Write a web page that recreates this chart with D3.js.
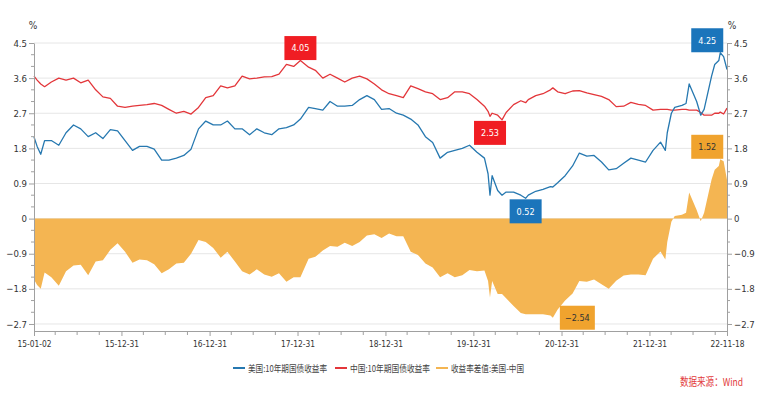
<!DOCTYPE html>
<html><head><meta charset="utf-8">
<script src="https://cdn.jsdelivr.net/npm/d3@7"></script>
<style>
html,body{margin:0;padding:0;background:#fff;}
svg{display:block;}
.tick text{font-family:'Liberation Sans Narrow','DejaVu Sans Condensed','Liberation Sans',sans-serif;font-size:9.5px;fill:#333;}
</style></head>
<body><svg id="chart" width="760" height="396"></svg>
<script>
const dates = ["2015-01-02","2015-01-15","2015-01-30","2015-02-15","2015-03-15","2015-04-15","2015-05-15","2015-06-15","2015-07-15","2015-08-15","2015-09-15","2015-10-15","2015-11-15","2015-12-15",
"2016-01-15","2016-02-15","2016-03-15","2016-04-15","2016-05-15","2016-06-15","2016-07-15","2016-08-15","2016-09-15","2016-10-15","2016-11-15","2016-12-15",
"2017-01-15","2017-02-15","2017-03-15","2017-04-15","2017-05-15","2017-06-15","2017-07-15","2017-08-15","2017-09-15","2017-10-15","2017-11-15","2017-12-15",
"2018-01-12","2018-02-15","2018-03-15","2018-04-15","2018-05-15","2018-06-15","2018-07-15","2018-08-15","2018-09-15","2018-10-15","2018-11-15","2018-12-15",
"2019-01-15","2019-02-15","2019-03-15","2019-04-15","2019-05-15","2019-06-15","2019-07-15","2019-08-15","2019-09-15","2019-10-15","2019-11-15","2019-12-15",
"2020-01-15","2020-02-15","2020-03-01","2020-03-09","2020-03-18","2020-04-10","2020-04-28","2020-05-15","2020-06-15","2020-07-15","2020-08-04","2020-08-15","2020-09-15","2020-10-15","2020-11-15","2020-11-25","2020-12-15",
"2021-01-15","2021-02-15","2021-03-15","2021-04-15","2021-05-15","2021-06-15","2021-07-15","2021-08-15","2021-09-15","2021-10-15","2021-11-15","2021-12-15",
"2022-01-15","2022-02-15","2022-03-07","2022-03-15","2022-04-01","2022-04-15","2022-05-15","2022-06-01","2022-06-14","2022-07-15","2022-08-01","2022-08-15","2022-09-15","2022-09-28","2022-10-15","2022-10-21","2022-11-04","2022-11-18"];

const usYield = [2.09,1.85,1.65,2.00,2.00,1.88,2.20,2.40,2.30,2.10,2.20,2.05,2.28,2.25,
2.00,1.75,1.85,1.85,1.78,1.50,1.50,1.55,1.62,1.78,2.30,2.50,
2.40,2.40,2.50,2.30,2.30,2.15,2.30,2.20,2.15,2.30,2.33,2.40,
2.55,2.85,2.82,2.78,3.00,2.88,2.88,2.90,3.05,3.15,3.05,2.80,
2.82,2.70,2.65,2.55,2.40,2.10,1.95,1.55,1.70,1.75,1.80,1.88,
1.70,1.55,1.15,0.60,1.10,0.72,0.60,0.68,0.68,0.60,0.52,0.60,0.70,0.75,0.82,0.81,0.92,
1.10,1.35,1.68,1.60,1.62,1.45,1.25,1.28,1.42,1.55,1.50,1.45,
1.75,1.96,1.75,2.20,2.70,2.85,2.90,2.95,3.45,3.00,2.65,2.80,3.65,3.95,4.05,4.25,4.15,3.82];

const cnYield = [3.65,3.55,3.45,3.38,3.50,3.60,3.55,3.60,3.48,3.55,3.30,3.12,3.08,2.88,
2.85,2.88,2.90,2.92,2.95,2.90,2.80,2.70,2.75,2.68,2.85,3.10,
3.15,3.40,3.35,3.40,3.65,3.58,3.60,3.63,3.64,3.70,3.95,3.90,
4.05,3.88,3.80,3.60,3.70,3.60,3.50,3.60,3.65,3.58,3.45,3.30,
3.20,3.15,3.10,3.40,3.33,3.25,3.20,3.05,3.10,3.25,3.25,3.20,
3.05,2.88,2.75,2.62,2.70,2.65,2.53,2.72,2.92,3.02,2.97,3.05,3.15,3.20,3.30,3.35,3.25,
3.20,3.27,3.28,3.22,3.18,3.13,3.05,2.87,2.88,2.98,2.93,2.90,
2.78,2.80,2.80,2.80,2.78,2.78,2.80,2.80,2.78,2.78,2.72,2.65,2.65,2.70,2.70,2.73,2.68,2.83];

const yTicks = [-2.7,-1.8,-0.9,0,0.9,1.8,2.7,3.6,4.5];
const xTickDates = ["2015-01-02","2015-12-31","2016-12-31","2017-12-31","2018-12-31","2019-12-31","2020-12-31","2021-12-31","2022-11-18"];
const xTickLabels = ["15-01-02","15-12-31","16-12-31","17-12-31","18-12-31","19-12-31","20-12-31","21-12-31","22-11-18"];
const seriesNames = ["美国:10年期国债收益率","中国:10年期国债收益率","收益率差值:美国-中国"];
const sourceText = "数据来源：Wind";

const parse = d3.timeParse("%Y-%m-%d");
const rows = dates.map((d,i)=>({date:parse(d), us:usYield[i], cn:cnYield[i], spread:+(usYield[i]-cnYield[i]).toFixed(2)}));

const BLUE="#2678b0", RED="#e3363a", ORANGE="#f4b552";
const BOX_BLUE="#1b75bb", BOX_RED="#f01d23", BOX_ORANGE="#f0a32e";
const svg = d3.select("#chart");
const L=34, R=727;
const x = d3.scaleTime().domain([parse(dates[0]), parse(dates[dates.length-1])]).range([L,R]);
const y = d3.scaleLinear().domain([-2.88,4.5]).range([331,43]);

// grid
svg.append("g").selectAll("line").data(yTicks).join("line")
  .attr("x1",L).attr("x2",R).attr("y1",d=>y(d)).attr("y2",d=>y(d))
  .attr("stroke","#e6e6e6").attr("stroke-width",1);

// area
svg.append("path").datum(rows)
  .attr("fill",ORANGE)
  .attr("d",d3.area().x(d=>x(d.date)).y0(y(0)).y1(d=>y(d.spread)));

// lines
svg.append("path").datum(rows).attr("fill","none").attr("stroke",RED).attr("stroke-width",1.3)
  .attr("stroke-linejoin","round")
  .attr("d",d3.line().x(d=>x(d.date)).y(d=>y(d.cn)));
svg.append("path").datum(rows).attr("fill","none").attr("stroke",BLUE).attr("stroke-width",1.3)
  .attr("stroke-linejoin","round")
  .attr("d",d3.line().x(d=>x(d.date)).y(d=>y(d.us)));

// axes
const fmtY = d=> d===0 ? "0" : d3.format(".1f")(d);
const minorY = d3.range(-27,46,3).map(v=>v/10).filter(v=>!yTicks.some(t=>Math.abs(t-v)<1e-6));
function styleAxis(g){
  g.select(".domain").attr("stroke","#a0a0a0");
  g.selectAll(".tick line").attr("stroke","#a0a0a0");
}
const gl = svg.append("g").attr("transform",`translate(${L},0)`)
  .call(d3.axisLeft(y).tickValues(yTicks).tickFormat(fmtY).tickSize(5).tickSizeOuter(0).tickPadding(2));
styleAxis(gl);
gl.selectAll(".minor").data(minorY).join("line").attr("class","minor")
  .attr("x1",-3).attr("x2",0).attr("y1",d=>y(d)).attr("y2",d=>y(d)).attr("stroke","#a0a0a0");
const gr = svg.append("g").attr("transform",`translate(${R},0)`)
  .call(d3.axisRight(y).tickValues(yTicks).tickFormat(fmtY).tickSize(5).tickSizeOuter(0).tickPadding(2));
styleAxis(gr);
gr.selectAll(".minor").data(minorY).join("line").attr("class","minor")
  .attr("x1",0).attr("x2",3).attr("y1",d=>y(d)).attr("y2",d=>y(d)).attr("stroke","#a0a0a0");

const majorX = xTickDates.map(parse);
const gb = svg.append("g").attr("transform",`translate(0,${y.range()[0]})`)
  .call(d3.axisBottom(x).tickValues(majorX).tickFormat((d,i)=>xTickLabels[i]).tickSize(5).tickSizeOuter(0).tickPadding(4));
styleAxis(gb);
gb.selectAll(".tick text").attr("textLength",34).attr("lengthAdjust","spacingAndGlyphs");
const minorX = [];
for(let yr=2015; yr<=2022; yr++){ ["03-31","06-30","09-30"].forEach(md=>minorX.push(parse(yr+"-"+md))); }
gb.selectAll(".minor").data(minorX).join("line").attr("class","minor")
  .attr("x1",d=>x(d)).attr("x2",d=>x(d)).attr("y1",0).attr("y2",4).attr("stroke","#a0a0a0");

// unit labels
const unitFont = "'Liberation Sans Narrow','DejaVu Sans Condensed',sans-serif";
svg.append("text").attr("x",L-1).attr("y",29).attr("text-anchor","middle").attr("font-size",10)
  .attr("font-family",unitFont).attr("fill","#333").text("%");
svg.append("text").attr("x",R+5).attr("y",29).attr("text-anchor","middle").attr("font-size",10)
  .attr("font-family",unitFont).attr("fill","#333").text("%");

// annotation boxes
const fmt2 = d3.format(".2f");
function extreme(key, fn){ return rows.reduce((a,b)=> fn(b[key],a[key]) ? b : a); }
const annos = [
  {row:extreme("cn",(a,b)=>a>b), key:"cn", color:BOX_RED, place:"above", dx:0},
  {row:extreme("cn",(a,b)=>a<b), key:"cn", color:BOX_RED, place:"below", dx:-12},
  {row:extreme("us",(a,b)=>a<b), key:"us", color:BOX_BLUE, place:"below", dx:0},
  {row:extreme("us",(a,b)=>a>b), key:"us", color:BOX_BLUE, place:"above", dx:-13},
  {row:extreme("spread",(a,b)=>a<b), key:"spread", color:BOX_ORANGE, place:"right", dx:0},
  {row:extreme("spread",(a,b)=>a>b), key:"spread", color:BOX_ORANGE, place:"above", dx:-13}
];
const bw=32, bh=24;
annos.forEach(a=>{
  const px = x(a.row.date), py = y(a.row[a.key]);
  let bx, by, w = bw;
  if(a.place==="above"){ bx = px + a.dx - bw/2; by = py - bh - 0.5; }
  else if(a.place==="below"){ bx = px + a.dx - bw/2; by = py + 1; }
  else { w = 35; bx = px + 7; by = py - bh/2; }
  svg.append("rect").attr("x",bx).attr("y",by).attr("width",w).attr("height",bh).attr("fill",a.color);
  svg.append("text").attr("x",bx+w/2).attr("y",by+bh/2+3.3).attr("text-anchor","middle")
    .attr("font-family",unitFont).attr("font-size",9).attr("fill",a.key==="spread"?"#333":"#fff")
    .text(fmt2(a.row[a.key]));
});

// legend
const legColors = [BLUE,RED,ORANGE];
const legX = [233,335,436];
const legW = [79,80,73];
const lg = svg.append("g");
seriesNames.forEach((n,i)=>{
  lg.append("line").attr("x1",legX[i]).attr("x2",legX[i]+12).attr("y1",368).attr("y2",368)
    .attr("stroke",legColors[i]).attr("stroke-width",2);
  lg.append("text").attr("x",legX[i]+15).attr("y",371.5).attr("font-size",9.5)
    .attr("textLength",legW[i]).attr("lengthAdjust","spacingAndGlyphs")
    .attr("font-family","'Noto Sans CJK SC',sans-serif").attr("fill","#444").text(n);
});
svg.append("text").attr("x",743).attr("y",386).attr("font-size",11).attr("text-anchor","end")
  .attr("textLength",63).attr("lengthAdjust","spacingAndGlyphs")
  .attr("font-family","'Noto Sans CJK SC',sans-serif").attr("fill","#e23b3b").text(sourceText);
</script></body></html>
